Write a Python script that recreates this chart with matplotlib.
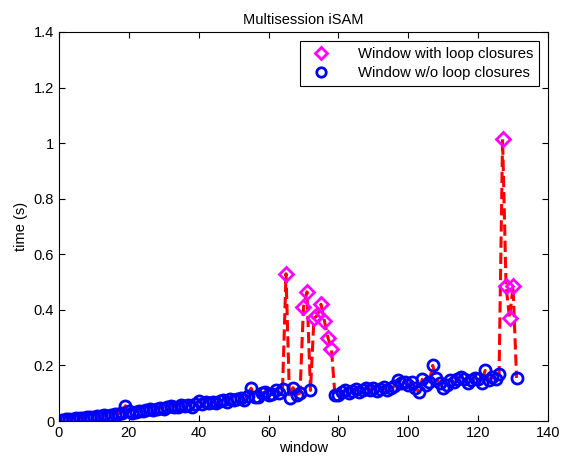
import numpy as np
import matplotlib
matplotlib.use('Agg')
from matplotlib import pyplot as plt
from matplotlib.ticker import FormatStrFormatter

plt.rcParams['font.family'] = ['Liberation Sans', 'DejaVu Sans']

# time per window (s), windows 1..131
times = [
	0.005, 0.006, 0.008, 0.008, 0.010, 0.011, 0.012, 0.014, 0.013, 0.016,
	0.017, 0.018, 0.020, 0.019, 0.022, 0.024, 0.026, 0.030, 0.055, 0.036,
	0.030, 0.034, 0.037, 0.036, 0.040, 0.042, 0.039, 0.045, 0.048, 0.044,
	0.050, 0.055, 0.052, 0.049, 0.056, 0.054, 0.058, 0.051, 0.060, 0.072,
	0.062, 0.070, 0.065, 0.068, 0.064, 0.072, 0.075, 0.070, 0.080, 0.074,
	0.078, 0.082, 0.076, 0.090, 0.118, 0.085, 0.087, 0.100, 0.105, 0.092,
	0.098, 0.110, 0.102, 0.115, 0.530, 0.082, 0.120, 0.095, 0.100, 0.410,
	0.465, 0.110, 0.370, 0.380, 0.420, 0.360, 0.300, 0.260, 0.094, 0.092,
	0.105, 0.112, 0.100, 0.108, 0.115, 0.105, 0.110, 0.118, 0.112, 0.120,
	0.108, 0.115, 0.122, 0.110, 0.118, 0.125, 0.148, 0.135, 0.140, 0.128,
	0.142, 0.118, 0.105, 0.150, 0.130, 0.140, 0.200, 0.155, 0.135, 0.118,
	0.130, 0.148, 0.140, 0.152, 0.160, 0.150, 0.138, 0.148, 0.155, 0.150,
	0.135, 0.182, 0.148, 0.158, 0.150, 0.168, 1.015, 0.485, 0.370, 0.485,
	0.155,
]
loop_windows = [65, 70, 71, 73, 74, 75, 76, 77, 78, 127, 128, 129, 130]

windows = np.arange(1, len(times) + 1)
times = np.array(times)
is_loop = np.isin(windows, loop_windows)

fig = plt.figure(figsize=(5.64, 4.65), dpi=100)
ax = fig.add_axes([0.1046, 0.0946, 0.867, 0.8366])

ax.plot(windows, times, 'r--', lw=2.2, zorder=1)
ax.plot(windows[is_loop], times[is_loop], 'D', ls='none', mfc='none', mec='magenta',
	mew=2, ms=7, label='Window with loop closures', zorder=3)
ax.plot(windows[~is_loop], times[~is_loop], 'o', ls='none', mfc='none', mec='blue',
	mew=2, ms=8, label='Window w/o loop closures', zorder=2)

ax.set_xlim(0, 140)
ax.set_ylim(0, 1.4)
ax.set_xticks(np.arange(0, 141, 20))
ax.set_yticks(np.arange(0, 1.41, 0.2))
ax.yaxis.set_major_formatter(FormatStrFormatter('%g'))
ax.tick_params(direction='in', top=True, right=True, labelsize=10.5, length=4)
ax.set_xlabel('window', fontsize=10.5, labelpad=1)
ax.set_ylabel('time (s)', fontsize=10.5)
ax.set_title('Multisession iSAM', fontsize=10.5)

leg = ax.legend(loc='upper right', fontsize=10.7, fancybox=False, framealpha=1,
	edgecolor='black', handletextpad=1.5, borderaxespad=0.6, borderpad=0.4,
	labelspacing=0.35, markerscale=0.85)
leg.get_frame().set_linewidth(0.8)

fig.savefig('out.png', dpi=100)
